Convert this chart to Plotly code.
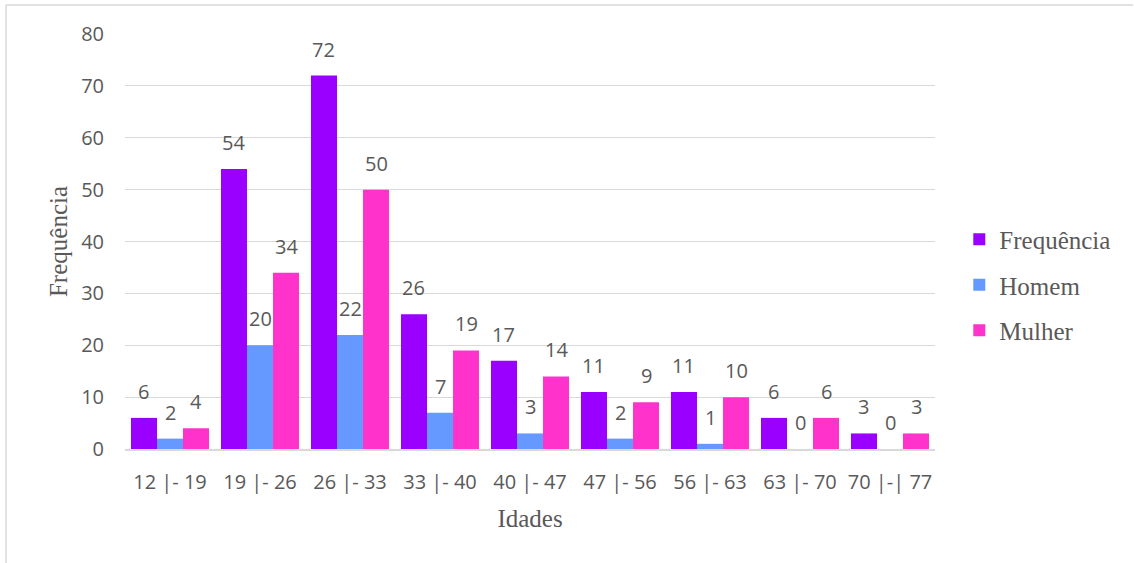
import plotly.graph_objects as go

categories = ["12 |- 19", "19 |- 26", "26 |- 33", "33 |- 40", "40 |- 47",
              "47 |- 56", "56 |- 63", "63 |- 70", "70 |-| 77"]
frequencia = [6, 54, 72, 26, 17, 11, 11, 6, 3]
homem = [2, 20, 22, 7, 3, 2, 1, 0, 0]
mulher = [4, 34, 50, 19, 14, 9, 10, 6, 3]

series = [
    ("Frequência", frequencia, "#9900FF"),
    ("Homem", homem, "#6699FF"),
    ("Mulher", mulher, "#FF33CC"),
]

SANS = "Open Sans, sans-serif"
SERIF = "Liberation Serif, Times New Roman, serif"
GREY = "#595959"

# plot area geometry (pixels)
W, H = 1134, 563
L, R, T, B = 125, 199, 34, 114
plot_w = W - L - R
plot_h = H - T - B
bargap = 0.133
n_series = len(series)
bar_px = plot_w / len(categories) * (1 - bargap) / n_series

fig = go.Figure()
annotations = []
for i, (name, vals, color) in enumerate(series):
    fig.add_trace(go.Bar(
        x=categories, y=vals, name=name, legendgroup=name,
        marker=dict(color=color, line=dict(width=0)),
    ))
    shift = (i - (n_series - 1) / 2) * bar_px
    for cat, v in zip(categories, vals):
        annotations.append(dict(
            x=cat, y=v, xref="x", yref="y", text=str(v), showarrow=False,
            xshift=shift, yshift=11, yanchor="bottom", xanchor="center",
            font=dict(family=SANS, size=20, color=GREY),
        ))

# chart frame: only the top and left edges are visible
frame_left = (6 - L) / plot_w
frame_right = (1133 - L) / plot_w
frame_top = (H - B - 5) / plot_h
frame_bottom = (H - B - H) / plot_h
shapes = [
    dict(type="line", xref="paper", yref="paper", x0=frame_left, x1=frame_right,
         y0=frame_top, y1=frame_top, line=dict(color="#d9d9d9", width=1.5)),
    dict(type="line", xref="paper", yref="paper", x0=frame_left, x1=frame_left,
         y0=frame_bottom, y1=frame_top, line=dict(color="#d9d9d9", width=1.5)),
]

fig.update_layout(
    width=W, height=H,
    margin=dict(l=L, r=R, t=T, b=B),
    paper_bgcolor="white", plot_bgcolor="white",
    barmode="group", bargap=bargap, bargroupgap=0,
    showlegend=True,
    legend=dict(
        x=1.03, y=(H - B - 285) / plot_h, xanchor="left", yanchor="middle",
        font=dict(family=SERIF, size=25, color=GREY),
        tracegroupgap=10, traceorder="grouped",
        itemwidth=30,
    ),
    xaxis=dict(
        title=dict(text="Idades", standoff=16,
                   font=dict(family=SERIF, size=25, color=GREY)),
        tickfont=dict(family=SANS, size=20, color=GREY),
        showline=True, linecolor="#d9d9d9", linewidth=1.5,
        ticks="outside", ticklen=14, tickcolor="rgba(0,0,0,0)",
    ),
    yaxis=dict(
        title=dict(text="Frequência", standoff=6,
                   font=dict(family=SERIF, size=25, color=GREY)),
        range=[0, 80], dtick=10,
        tickfont=dict(family=SANS, size=20, color=GREY),
        showgrid=True, gridcolor="#d9d9d9", gridwidth=1,
        zeroline=False, ticks="outside", ticklen=16, tickcolor="rgba(0,0,0,0)",
    ),
    annotations=annotations,
    shapes=shapes,
)

fig.write_html("out.html")
